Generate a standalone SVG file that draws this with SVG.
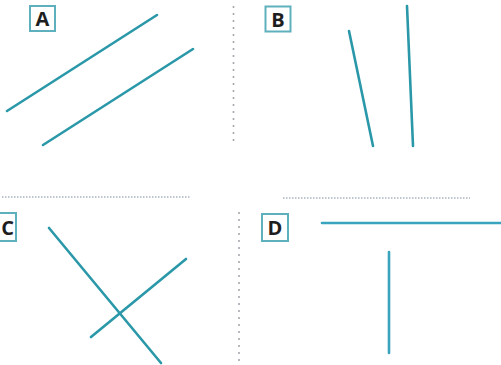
<svg xmlns="http://www.w3.org/2000/svg" width="501" height="365" viewBox="0 0 501 365">
<style>
.ln{stroke:#2a98a8;stroke-width:2.6;stroke-linecap:round;fill:none}
.vd{stroke:#a0a0a8;stroke-width:2;stroke-linecap:round;stroke-dasharray:0 7;fill:none}
.hd{stroke:#a8b4c0;stroke-width:1.3;stroke-dasharray:1.5 1.5;fill:none}
.box{fill:#fff;stroke:#5fb0bd;stroke-width:2}
.lbl{font-family:"Open Sans","DejaVu Sans",sans-serif;font-weight:bold;font-size:20px;fill:#1e1e1e;text-anchor:middle}
</style>
<rect width="501" height="365" fill="#fff"/>
<g id="dividers">
<line class="vd" x1="233.5" y1="7" x2="233.5" y2="147"/>
<line class="vd" x1="239" y1="213" x2="239" y2="365"/>
<line class="hd" x1="2" y1="197" x2="190" y2="197"/>
<line class="hd" x1="283" y1="198" x2="470" y2="198"/>
</g>
<g id="A">
<rect class="box" x="30" y="6" width="25" height="25"/>
<text class="lbl" x="42.5" y="26">A</text>
<line class="ln" x1="7" y1="111" x2="157" y2="15"/>
<line class="ln" x1="43" y1="145" x2="193" y2="49"/>
</g>
<g id="B">
<rect class="box" x="265.5" y="6.5" width="25" height="25"/>
<text class="lbl" x="278" y="26.5">B</text>
<line class="ln" x1="349" y1="31" x2="373" y2="146"/>
<line class="ln" x1="407" y1="6" x2="413" y2="146"/>
</g>
<g id="C">
<rect class="box" x="-10" y="213" width="26" height="28"/>
<text class="lbl" x="7.5" y="234.5">C</text>
<line class="ln" x1="49" y1="228" x2="161" y2="363"/>
<line class="ln" x1="91" y1="337" x2="186" y2="259"/>
</g>
<g id="D">
<rect class="box" x="262" y="214" width="26" height="27"/>
<text class="lbl" x="275" y="235">D</text>
<line class="ln" x1="322" y1="223" x2="501" y2="223" style="stroke:#3aa3bd"/>
<line class="ln" x1="389" y1="252" x2="389" y2="353" style="stroke:#3aa3bd"/>
</g>
</svg>
